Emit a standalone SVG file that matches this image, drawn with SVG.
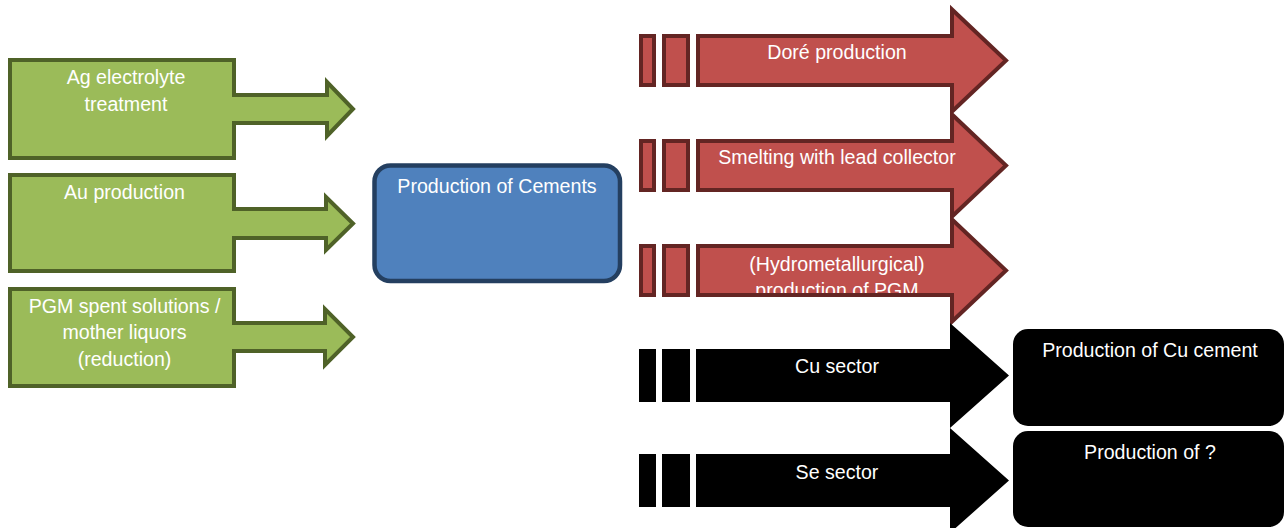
<svg xmlns="http://www.w3.org/2000/svg" width="1284" height="528" viewBox="0 0 1284 528">
  <style>
    text { font-family: "Liberation Sans", Arial, sans-serif; font-size: 19.6px; fill: #ffffff; text-anchor: middle; }
    .green { fill: #9bbb59; stroke: #4f6228; stroke-width: 4; stroke-linejoin: miter; }
    .red { fill: #c0504d; stroke: #632523; stroke-width: 4; stroke-linejoin: miter; }
    .blue { fill: #4f81bd; stroke: #243f60; stroke-width: 4.5; }
    .black { fill: #000000; }
  </style>
  <defs>
    <!-- striped block arrow, centred on y=0 -->
    <g id="redArrow">
      <rect class="red" x="641" y="-24.5" width="13" height="49"/>
      <rect class="red" x="664" y="-24.5" width="24" height="49"/>
      <path class="red" d="M698,-24.5 H952 V-51 L1006,0 L952,51 V24.5 H698 Z"/>
    </g>
    <g id="blackArrow">
      <rect class="black" x="639" y="-26.5" width="17" height="53"/>
      <rect class="black" x="662" y="-26.5" width="28" height="53"/>
      <path class="black" d="M696,-26.5 H950 V-52.5 L1009,0 L950,52.5 V26.5 H696 Z"/>
    </g>
    <clipPath id="hydroClip">
      <rect x="698" y="246" width="254" height="47"/>
    </clipPath>
  </defs>

  <!-- input processes (right-arrow callouts) -->
  <g id="ag-electrolyte">
    <path class="green" d="M10,60 H234 V95 H327 V82 L353,109 L327,136 V123 H234 V158 H10 Z"/>
    <text x="126" y="84">Ag electrolyte</text>
    <text x="126" y="111">treatment</text>
  </g>
  <g id="au-production">
    <path class="green" d="M10,175 H234 V209 H326 V197 L353,223.5 L326,250 V238 H234 V271 H10 Z"/>
    <text x="124.5" y="199">Au production</text>
  </g>
  <g id="pgm-solutions">
    <path class="green" d="M10,289 H234 V323 H325 V309 L353,337 L325,365 V351 H234 V386 H10 Z"/>
    <text x="124.5" y="313">PGM spent solutions /</text>
    <text x="124.5" y="339">mother liquors</text>
    <text x="124.5" y="366">(reduction)</text>
  </g>

  <!-- central process -->
  <g id="cements">
    <rect class="blue" x="374.5" y="165.5" width="245.5" height="115.5" rx="16" ry="16"/>
    <text x="497" y="193">Production of Cements</text>
  </g>

  <!-- sectors -->
  <g id="connectors">
    <g id="dore">
      <use href="#redArrow" transform="translate(0,60.5)"/>
      <text x="837" y="59">Doré production</text>
    </g>
    <g id="smelting">
      <use href="#redArrow" transform="translate(0,165.5)"/>
      <text x="837" y="164">Smelting with lead collector</text>
    </g>
    <g id="hydro-pgm">
      <use href="#redArrow" transform="translate(0,270.5)"/>
      <g clip-path="url(#hydroClip)">
        <text x="837" y="271">(Hydrometallurgical)</text>
        <text x="837" y="297">production of PGM</text>
      </g>
    </g>
    <g id="cu-sector">
      <use href="#blackArrow" transform="translate(0,375.5)"/>
      <text x="837" y="373">Cu sector</text>
    </g>
    <g id="se-sector">
      <use href="#blackArrow" transform="translate(0,480.5)"/>
      <text x="837" y="479">Se sector</text>
    </g>
  </g>

  <!-- outputs -->
  <g id="cu-cement">
    <rect class="black" x="1013" y="329" width="271" height="97" rx="15" ry="15"/>
    <text x="1150" y="357">Production of Cu cement</text>
  </g>
  <g id="unknown-product">
    <rect class="black" x="1013" y="431" width="271" height="96" rx="15" ry="15"/>
    <text x="1150" y="459">Production of ?</text>
  </g>
</svg>
